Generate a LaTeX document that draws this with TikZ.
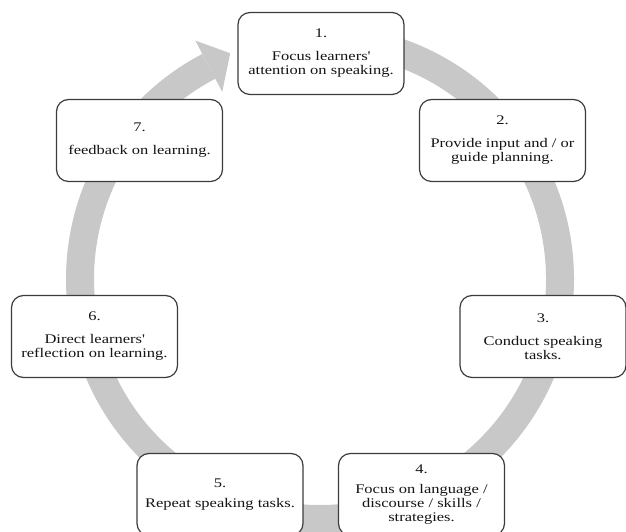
\documentclass[tikz,border=0pt]{standalone}
\usepackage{fontspec}
\setmainfont{Liberation Serif}[FakeStretch=1.25]
\definecolor{ringcol}{RGB}{200,200,200}
\definecolor{boxline}{RGB}{60,60,60}
\definecolor{txt}{RGB}{20,20,20}
\newcommand{\apos}{\textquotesingle}
\begin{document}
\begin{tikzpicture}[x=1pt,y=1pt,
  stepbox/.style={draw=boxline, line width=1.2pt, fill=white, rounded corners=12pt,
    minimum width=166pt, minimum height=82pt, align=center, text=txt,
    font=\fontsize{13.2}{14}\selectfont, inner sep=0pt}]
\useasboundingbox (0,0) rectangle (626,532);
\coordinate (c) at (320,253);
% ring with arrowhead
\draw[ringcol, line width=28pt] ([shift={(95:240)}]c) arc[start angle=95, end angle=-242.4, radius=240];
\fill[ringcol] ([shift={(117.6:269)}]c) -- ([shift={(111.7:243)}]c) -- ([shift={(117.6:211)}]c) -- cycle;
% boxes
\node[stepbox] (s1) at (321,478.5) {1.\\[9pt]Focus learners\apos\\attention on speaking.};
\node[stepbox] (s2) at (502.5,391.5) {2.\\[9pt]Provide input and / or\\guide planning.};
\node[stepbox] (s3) at (543,195.5) {3.\\[9pt]Conduct speaking\\tasks.};
\node[stepbox] (s4) at (421.5,37.5) {4.\\[6pt]Focus on language /\\discourse / skills /\\strategies.};
\node[stepbox] (s5) at (220,37.5) {5.\\[6pt]Repeat speaking tasks.};
\node[stepbox] (s6) at (94.5,195.5) {6.\\[9pt]Direct learners\apos\\reflection on learning.};
\node[stepbox] (s7) at (139.5,391.5) {7.\\[9pt]feedback on learning.};
\end{tikzpicture}
\end{document}
